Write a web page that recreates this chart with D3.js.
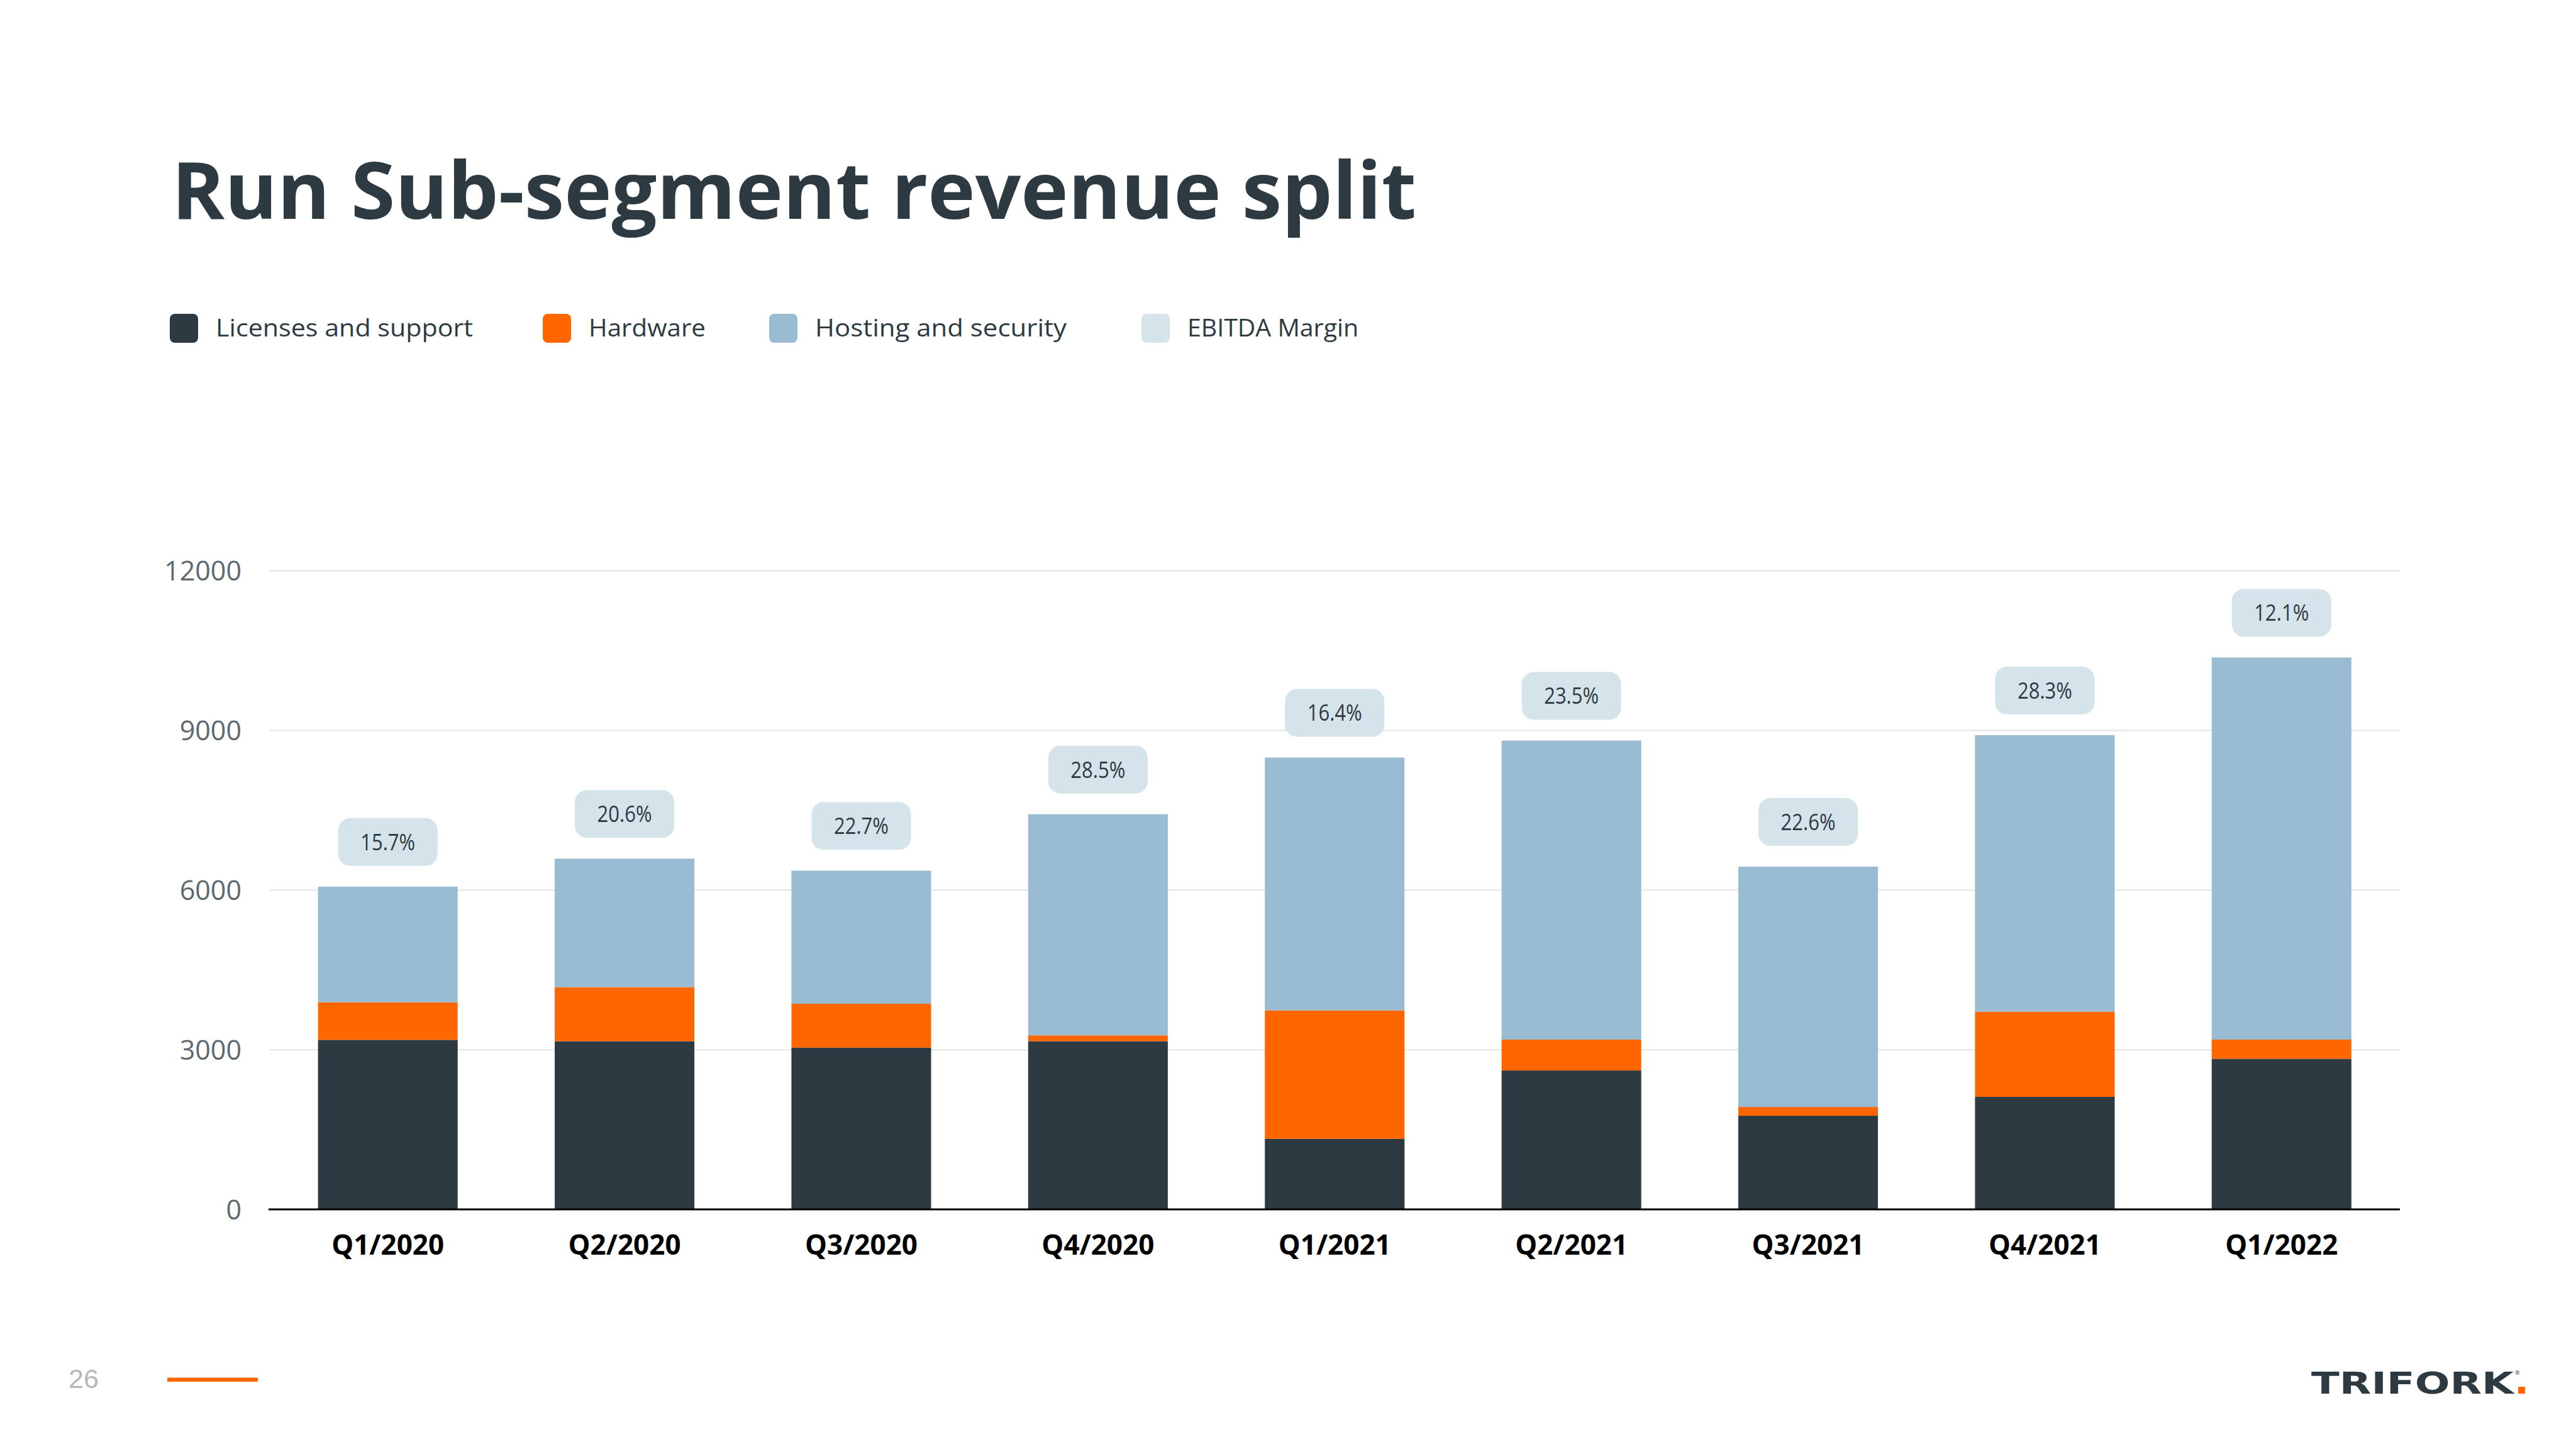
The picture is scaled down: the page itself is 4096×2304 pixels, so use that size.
<!DOCTYPE html>
<html>
<head>
<meta charset="utf-8">
<script src="https://cdn.jsdelivr.net/npm/d3@7"></script>
<style>
  html, body { margin: 0; padding: 0; background: #ffffff; }
  svg { display: block; }
</style>
</head>
<body>
<script>
// ---- data ----
const categories = ["Q1/2020","Q2/2020","Q3/2020","Q4/2020","Q1/2021","Q2/2021","Q3/2021","Q4/2021","Q1/2022"];
const licensesAndSupport = [3185, 3160, 3040, 3160, 1325, 2610, 1760, 2115, 2830];
const hardware           = [705, 1015, 825, 110, 2415, 580, 165, 1600, 360];
const hostingAndSecurity = [2175, 2415, 2500, 4155, 4750, 5620, 4515, 5195, 7180];
const ebitdaMargin       = ["15.7%","20.6%","22.7%","28.5%","16.4%","23.5%","22.6%","28.3%","12.1%"];
const yTicks = [0, 3000, 6000, 9000, 12000];
const legendNames = ["Licenses and support","Hardware","Hosting and security","EBITDA Margin"];
const titleText = "Run Sub-segment revenue split";
const pageNumber = "26";

// ---- styles ----
const W = 4096, H = 2304;
const colors = ["#2d3a42", "#ff6600", "#99bcd2", "#d5e3ea"];
const dark = "#2d3a42";
const font = "'Open Sans', 'Noto Sans', sans-serif";

const svg = d3.select("body").append("svg").attr("width", W).attr("height", H);

// title
svg.append("text").attr("x", 273).attr("y", 348)
  .attr("font-family", font).attr("font-weight", 700).attr("font-size", 126)
  .attr("fill", dark).attr("textLength", 1979).attr("lengthAdjust", "spacingAndGlyphs")
  .text(titleText);

// legend
const legendX = [270, 863, 1223, 1815];
const legendW = [409, 186, 400, 272];
const leg = svg.append("g");
legendNames.forEach((n, i) => {
  leg.append("rect").attr("x", legendX[i]).attr("y", 499).attr("width", 45).attr("height", 46)
    .attr("rx", 8).attr("fill", colors[i]);
  leg.append("text").attr("x", legendX[i] + 73).attr("y", 535)
    .attr("font-family", font).attr("font-size", 39).attr("fill", dark)
    .attr("textLength", legendW[i]).attr("lengthAdjust", "spacingAndGlyphs")
    .text(n);
});

// scales
const x = d3.scaleBand().domain(categories).range([428.5, 3816]).paddingInner(0.41).paddingOuter(0.205);
const y = d3.scaleLinear().domain([0, 12000]).range([1923, 907.5]);

// gridlines
svg.append("g").selectAll("line").data(yTicks.filter(d => d > 0)).join("line")
  .attr("x1", 428.5).attr("x2", 3816)
  .attr("y1", d => y(d)).attr("y2", d => y(d))
  .attr("stroke", "#e4e4e4").attr("stroke-width", 2);

// y axis labels
const yAxis = d3.axisLeft(y).tickValues(yTicks).tickSize(0).tickPadding(0).tickFormat(d3.format("d"));
const ya = svg.append("g").attr("transform", "translate(384,0)").call(yAxis);
ya.select(".domain").remove();
ya.selectAll("text").attr("font-family", font).attr("font-size", 43).attr("fill", "#5d6870").attr("dy", "0.35em");

// stacked bars
const rows = categories.map((c, i) => ({ cat: c, a: licensesAndSupport[i], b: hardware[i], c2: hostingAndSecurity[i] }));
const stack = d3.stack().keys(["a", "b", "c2"]);
const stacked = stack(rows);
svg.append("g").selectAll("g").data(stacked).join("g")
  .attr("fill", (d, i) => colors[i])
  .selectAll("rect").data(d => d).join("rect")
  .attr("x", d => x(d.data.cat))
  .attr("width", x.bandwidth())
  .attr("y", d => y(d[1]))
  .attr("height", d => y(d[0]) - y(d[1]));

// baseline
svg.append("line").attr("x1", 427).attr("x2", 3816).attr("y1", y(0)).attr("y2", y(0))
  .attr("stroke", "#000").attr("stroke-width", 3);

// x labels
const xAxis = d3.axisBottom(x).tickSize(0).tickPadding(0);
const xa = svg.append("g").attr("transform", `translate(0,${y(0)})`).call(xAxis);
xa.select(".domain").remove();
xa.selectAll("text").attr("font-family", font).attr("font-weight", 700).attr("font-size", 44)
  .attr("fill", "#000").attr("dy", 0).attr("y", 72);

// EBITDA pills
const totals = stacked[2].map(d => d[1]);
const pw = 158, ph = 76;
const pills = svg.append("g").selectAll("g").data(categories).join("g")
  .attr("transform", (c, i) => `translate(${x(c) + x.bandwidth() / 2},${y(totals[i]) - 33 - ph})`);
pills.append("rect").attr("x", -pw / 2).attr("y", 0).attr("width", pw).attr("height", ph)
  .attr("rx", 19).attr("fill", colors[3]);
pills.append("text").attr("x", 0).attr("y", ph / 2).attr("dy", "0.36em")
  .attr("text-anchor", "middle").attr("font-family", font).attr("font-size", 36).attr("fill", dark)
  .attr("textLength", 87).attr("lengthAdjust", "spacingAndGlyphs")
  .text((c, i) => ebitdaMargin[i]);

// footer
svg.append("text").attr("x", 109).attr("y", 2207)
  .attr("font-family", "'Liberation Sans', Arial, sans-serif").attr("font-size", 43).attr("fill", "#b3b8bb")
  .text(pageNumber);
svg.append("rect").attr("x", 266).attr("y", 2190.5).attr("width", 144).attr("height", 6.5).attr("fill", "#ff6600");

// logo
svg.append("text").attr("x", 3675).attr("y", 2216)
  .attr("font-family", "'DejaVu Sans', sans-serif").attr("font-weight", 700).attr("font-size", 48)
  .attr("fill", dark).attr("textLength", 322).attr("lengthAdjust", "spacingAndGlyphs")
  .text("TRIFORK");
svg.append("rect").attr("x", 4004).attr("y", 2205).attr("width", 11).attr("height", 11).attr("fill", "#ff6600");
svg.append("text").attr("x", 3999).attr("y", 2186)
  .attr("font-family", font).attr("font-size", 9).attr("fill", dark).text("®");
</script>
</body>
</html>
